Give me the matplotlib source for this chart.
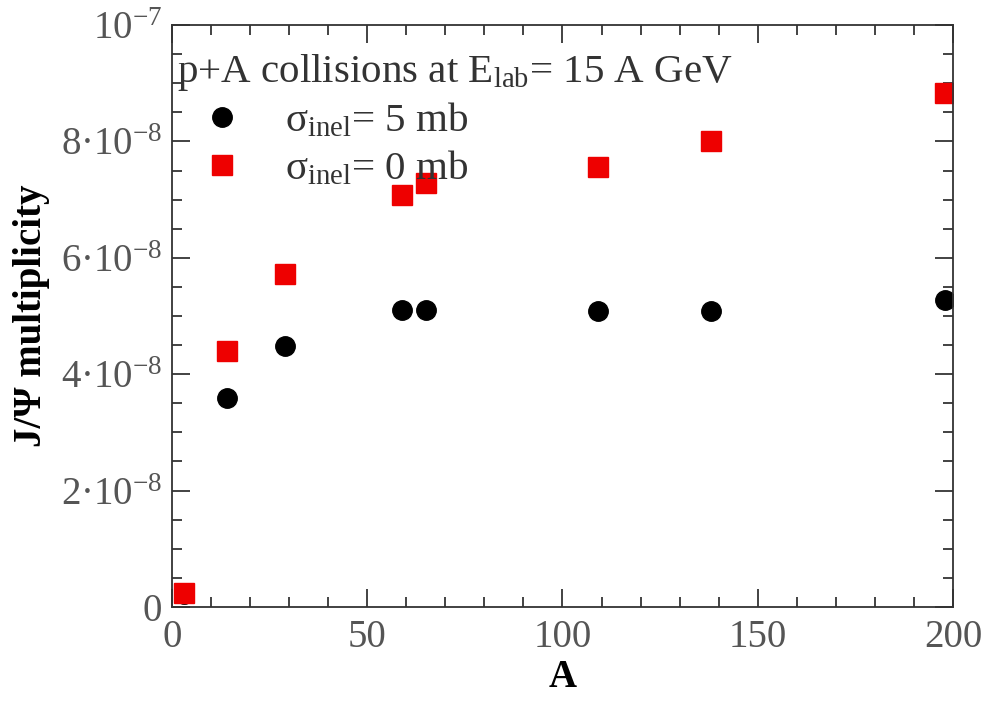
import matplotlib.pyplot as plt
from matplotlib.ticker import FixedLocator, MultipleLocator

# J/psi yield in p+A collisions vs. target mass number
mass_number = [3, 14, 29, 59, 65, 109, 138, 198]
mult_5mb = [0.22e-8, 3.59e-8, 4.48e-8, 5.10e-8, 5.10e-8, 5.09e-8, 5.09e-8, 5.27e-8]
mult_0mb = [0.24e-8, 4.40e-8, 5.72e-8, 7.08e-8, 7.29e-8, 7.56e-8, 8.00e-8, 8.83e-8]

y_ticks = [0, 2e-8, 4e-8, 6e-8, 8e-8, 1e-7]
y_tick_labels = ["0", "2·10$^{-8}$", "4·10$^{-8}$", "6·10$^{-8}$", "8·10$^{-8}$", "10$^{-7}$"]

plt.rcParams["font.family"] = ["Liberation Serif", "DejaVu Serif"]
plt.rcParams["mathtext.fontset"] = "custom"
plt.rcParams["mathtext.rm"] = "Liberation Serif"
plt.rcParams["mathtext.it"] = "Liberation Serif:italic"
plt.rcParams["mathtext.bf"] = "Liberation Serif:bold"

FS = 28
LEG_FS = 29.5

fig = plt.figure(figsize=(10.02, 7.11), dpi=100)
ax = fig.add_axes([0.1717, 0.1463, 0.7793, 0.8185])

ax.plot(mass_number, mult_5mb, "o", color="black", markersize=14,
        linestyle="none", label="σ$_{\\rm inel}$= 5 mb")
ax.plot(mass_number, mult_0mb, "s", color="#ee0000", markersize=14,
        linestyle="none", label="σ$_{\\rm inel}$= 0 mb")

ax.set_xlim(0, 200)
ax.set_ylim(0, 1e-7)
ax.xaxis.set_major_locator(MultipleLocator(50))
ax.xaxis.set_minor_locator(MultipleLocator(10))
ax.yaxis.set_major_locator(FixedLocator(y_ticks))
ax.yaxis.set_minor_locator(MultipleLocator(0.5e-8))
ax.set_yticklabels(y_tick_labels)

ax.tick_params(which="both", direction="in", top=True, right=True,
               color="#222222", width=1.2)
ax.tick_params(which="major", length=13, labelsize=FS, labelcolor="#555555")
ax.tick_params(which="minor", length=7)
ax.tick_params(axis="x", which="major", pad=9)
ax.tick_params(axis="y", which="major", pad=7)
for side in ax.spines.values():
    side.set_color("#333333")
    side.set_linewidth(1.3)

ax.set_xlabel("A", fontsize=FS, fontweight="bold", labelpad=2)
ax.set_ylabel("J/Ψ multiplicity", fontsize=FS, fontweight="bold", labelpad=8)

leg = ax.legend(title="p+A collisions at E$_{\\rm lab}$= 15 A GeV",
                loc="upper left", bbox_to_anchor=(-0.01, 0.975),
                frameon=False, fontsize=LEG_FS, title_fontsize=LEG_FS,
                handletextpad=0.45, handlelength=2.2, labelspacing=0.22,
                borderaxespad=0.0, borderpad=0.3, alignment="left")
for t in leg.get_texts():
    t.set_color("#333333")
leg.get_title().set_color("#333333")

fig.savefig("out.png", dpi=100)
